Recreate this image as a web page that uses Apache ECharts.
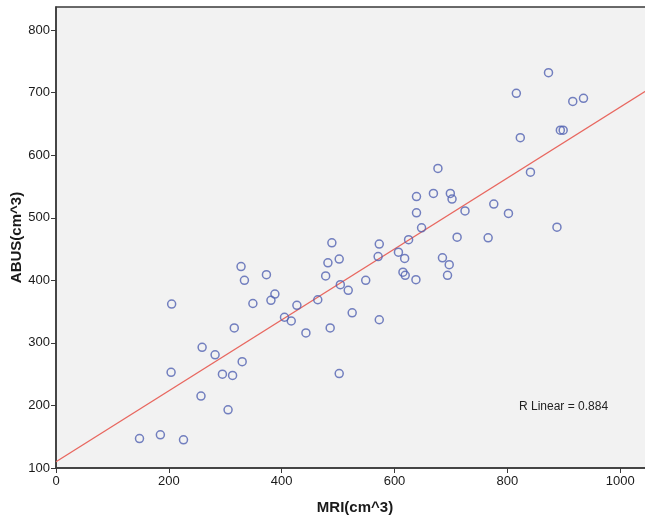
<!DOCTYPE html>
<html>
<head>
<meta charset="utf-8">
<title>ABUS vs MRI</title>
<script src="https://cdn.jsdelivr.net/npm/echarts@6/dist/echarts.min.js"></script>
<style>
  html, body { margin: 0; padding: 0; background: #fff; }
  #chart { width: 645px; height: 521px; }
</style>
</head>
<body>
<div id="chart"></div>
<script>
  // MRI volume (x) and ABUS volume (y)
  var mri = [148, 185, 226, 205, 204, 257, 259, 282, 295, 313, 305, 316, 330, 328, 334, 349,
             373, 381, 388, 405, 417, 427, 443, 464, 482, 478, 486, 489, 502, 504, 518, 549,
             525, 573, 502, 573, 571, 607, 618, 615, 619, 638, 625, 648, 639, 639, 669, 699,
             702, 711, 685, 697, 694, 725, 776, 802, 766, 888, 677, 841, 823, 816, 873, 916,
             935, 894, 899];
  var abus = [147, 153, 145, 362, 253, 215, 293, 281, 250, 248, 193, 324, 270, 422, 400, 363,
              409, 368, 378, 341, 335, 360, 316, 369, 428, 407, 324, 460, 434, 393, 384, 400,
              348, 337, 251, 458, 438, 445, 435, 413, 408, 401, 465, 484, 508, 534, 539, 539,
              530, 469, 436, 425, 408, 511, 522, 507, 468, 485, 579, 573, 628, 699, 732, 686,
              691, 640, 640];
  var xTicks = [0, 200, 400, 600, 800, 1000];
  var yTicks = [100, 200, 300, 400, 500, 600, 700, 800];

  // fit line as drawn in the picture
  var fitIntercept = 110;
  var fitSlope = 0.567;
  var rLabel = 'R Linear = 0.884';

  var xMax = 1060, yMax = 837;

  var points = [];
  for (var i = 0; i < mri.length; i++) {
    points.push([mri[i], abus[i]]);
  }
  var fitLine = [[0, fitIntercept], [xMax, fitIntercept + fitSlope * xMax]];

  var chart = echarts.init(document.getElementById('chart'));
  var font = '"Liberation Sans", Arial, sans-serif';

  var option = {
    animation: false,
    backgroundColor: '#ffffff',
    grid: {
      left: 56,
      top: 7,
      width: 598,
      height: 461,
      outerBoundsMode: 'none',
      containLabel: false,
      show: true,
      backgroundColor: '#f2f2f2',
      borderColor: '#3a3a3a',
      borderWidth: 1.5
    },
    xAxis: {
      type: 'value',
      min: 0,
      max: xMax,
      interval: 200,
      name: 'MRI(cm^3)',
      nameLocation: 'middle',
      nameGap: 32,
      nameTextStyle: { fontFamily: font, fontSize: 15, fontWeight: 'bold', color: '#1a1a1a' },
      axisLine: { show: true, lineStyle: { color: '#3a3a3a', width: 1.5 } },
      axisTick: { show: true, length: 5, lineStyle: { color: '#3a3a3a' } },
      axisLabel: {
        showMaxLabel: false,
        fontFamily: font, fontSize: 13, color: '#1a1a1a', margin: 7,
        formatter: function (v) { return xTicks.indexOf(v) >= 0 ? String(v) : ''; }
      },
      splitLine: { show: false }
    },
    yAxis: {
      type: 'value',
      min: 100,
      max: yMax,
      interval: 100,
      name: 'ABUS(cm^3)',
      nameLocation: 'middle',
      nameGap: 32,
      nameMoveOverlap: false,
      nameTextStyle: { fontFamily: font, fontSize: 15, fontWeight: 'bold', color: '#1a1a1a' },
      axisLine: { show: true, lineStyle: { color: '#3a3a3a', width: 1.5 } },
      axisTick: { show: true, length: 5, lineStyle: { color: '#3a3a3a' } },
      axisLabel: {
        showMaxLabel: false,
        fontFamily: font, fontSize: 13, color: '#1a1a1a', margin: 6,
        formatter: function (v) { return yTicks.indexOf(v) >= 0 ? String(v) : ''; }
      },
      splitLine: { show: false }
    },
    series: [
      {
        type: 'line',
        data: fitLine,
        showSymbol: false,
        silent: true,
        lineStyle: { color: '#e8675f', width: 1.3 },
        z: 1
      },
      {
        type: 'scatter',
        data: points,
        symbol: 'circle',
        symbolSize: 8,
        itemStyle: { color: 'rgba(0,0,0,0)', borderColor: '#5161b1', borderWidth: 1.5 },
        z: 2
      }
    ],
    graphic: [
      {
        type: 'text',
        left: 519,
        top: 401,
        style: { text: rLabel, font: '12px ' + font, fill: '#222' }
      }
    ]
  };

  chart.setOption(option);
</script>
</body>
</html>
